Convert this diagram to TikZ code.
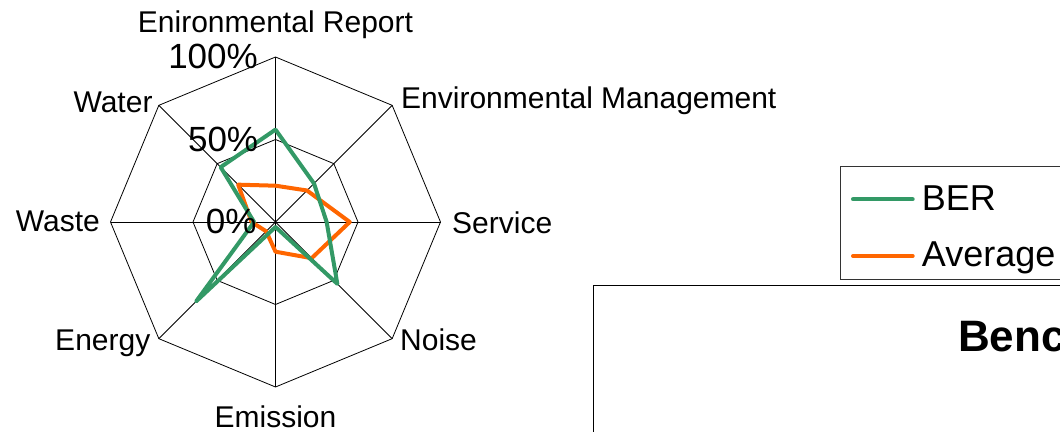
\documentclass[tikz,border=0pt]{standalone}
\usepackage{fontspec}
\setmainfont{Liberation Sans}
\usetikzlibrary{positioning}

\definecolor{bergreen}{RGB}{51,153,102}
\definecolor{avgorange}{RGB}{255,102,0}

\begin{document}
\begin{tikzpicture}[x=1pt,y=-1pt,
        axislabel/.style={font=\fontsize{30}{30}\selectfont,inner sep=0pt},
        pctlabel/.style={font=\fontsize{35}{35}\selectfont,inner sep=0pt},
        legendlabel/.style={font=\fontsize{36}{36}\selectfont,inner sep=0pt},
        gridline/.style={black,line width=0.8pt},
        series/.style={line width=4pt,line join=round}]
        \useasboundingbox (0,0) rectangle (1060,431);
        \clip (0,0) rectangle (1060,431);
        \fill[white] (0,0) rectangle (1060,431);
        \def\rad{165}
        % radar grid and data
        \begin{scope}[shift={(275.5,222)}]
            \draw[gridline] (-90:\rad) \foreach \a in {-45,0,45,90,135,180,225} {-- (\a:\rad)} -- cycle;
            \draw[gridline] (-90:\rad/2) \foreach \a in {-45,0,45,90,135,180,225} {-- (\a:\rad/2)} -- cycle;
            \foreach \a in {-90,-45,...,225}
                \draw[gridline] (0,0) -- (\a:\rad);
            \draw[series,avgorange] (-90:{0.22*\rad}) -- (-45:{0.27*\rad}) -- (0:{0.45*\rad}) -- (45:{0.31*\rad})
                -- (90:{0.18*\rad}) -- (135:{0.08*\rad}) -- (180:{0.145*\rad}) -- (225:{0.32*\rad}) -- cycle;
            \draw[series,bergreen] (-90:{0.56*\rad}) -- (-45:{0.33*\rad}) -- (0:{0.31*\rad}) -- (45:{0.53*\rad})
                -- (90:{0.03*\rad}) -- (135:{0.68*\rad}) -- (180:{0.13*\rad}) -- (225:{0.47*\rad}) -- cycle;
        \end{scope}
        % axis labels
        \node[axislabel,anchor=base] (report) at (275.5,32.7) {Enironmental Report};
        \node[axislabel,anchor=base west] (management) at (401,108.3) {Environmental Management};
        \node[axislabel,anchor=base west] (service) at (452,233) {Service};
        \node[axislabel,anchor=base west] (noise) at (400,350) {Noise};
        \node[axislabel,anchor=base] (emission) at (275.5,427) {Emission};
        \node[axislabel,anchor=base east] (energy) at (150.5,350) {Energy};
        \node[axislabel,anchor=base east] (waste) at (100,231.7) {Waste};
        \node[axislabel,anchor=base east] (water) at (152.7,112.3) {Water};
        % scale labels
        \node[pctlabel,anchor=base east] (full) at (258,68.3) {100\%};
        \node[pctlabel,anchor=base east] (half) at (258.3,151.7) {50\%};
        \node[pctlabel,anchor=base east] (zero) at (256.7,233.3) {0\%};
        % legend
        \draw[black!80,line width=1pt] (840.7,166) rectangle (1080,279);
        \draw[bergreen,line width=4pt,line cap=round] (853,199.3) -- (912.7,199.3);
        \draw[avgorange,line width=4pt,line cap=round] (853,256) -- (912.7,256);
        \node[legendlabel,anchor=base west] (ber) at (921.7,210) {BER};
        \node[legendlabel,anchor=base west] (average) at (921.7,266.7) {Average};
        % title box
        \draw[black,line width=1.5pt] (593.7,285.7) rectangle (1080,460);
        \node[font=\fontsize{44}{44}\selectfont\bfseries,inner sep=0pt,anchor=base west] (title) at (958,351.7) {Benc};
    \end{tikzpicture}
\end{document}
